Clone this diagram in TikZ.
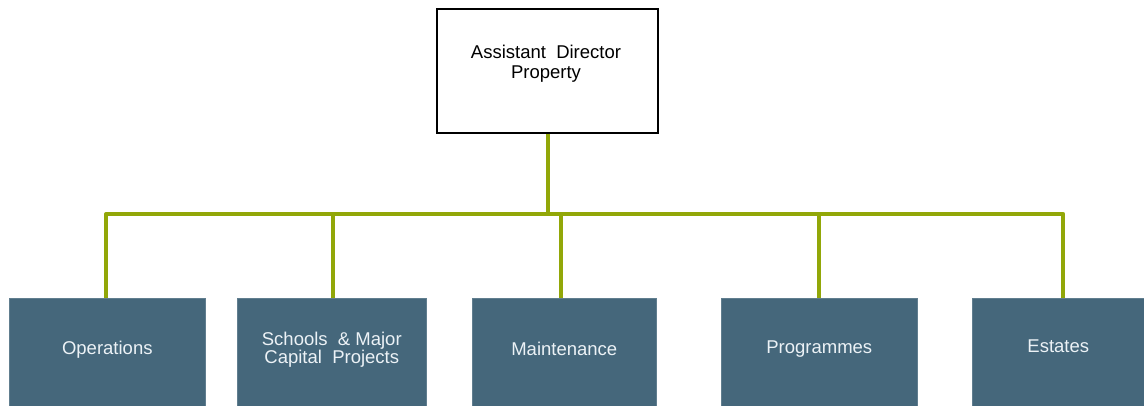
\documentclass[tikz,border=0pt]{standalone}
\usepackage{fontspec}
\setmainfont{Liberation Sans}
\definecolor{linkgreen}{RGB}{146,167,8}
\definecolor{unitfill}{RGB}{69,103,123}
\definecolor{unittext}{RGB}{236,242,246}
\tikzset{
  x=1pt, y=-1pt,
  headbox/.style={draw=black, line width=1.6pt, fill=white, minimum width=221pt,
    minimum height=124pt, inner sep=0pt},
  unitbox/.style={fill=unitfill, draw=unitfill!85!white, line width=0.6pt,
    minimum height=108pt, inner sep=0pt, anchor=north west},
  unitlabel/.style={text=unittext, font=\fontsize{18.5}{18}\selectfont, align=center,
    inner sep=0pt},
  link/.style={draw=linkgreen, line width=4pt, line join=round},
}
\begin{document}
\begin{tikzpicture}
\useasboundingbox[fill=white] (0,0) rectangle (1144,406);
% head of service
\node[headbox] (head) at (547.5,71) {};
\node[font=\fontsize{18.5}{20}\selectfont, align=center, inner sep=0pt] (headtext)
  at (546,64) {Assistant\ \ Director\\Property};
% teams
\node[unitbox, minimum width=196pt] (ops) at (9,298) {};
\node[unitbox, minimum width=189pt] (smc) at (237,298) {};
\node[unitbox, minimum width=184pt] (mnt) at (472,298) {};
\node[unitbox, minimum width=196pt] (prg) at (721,298) {};
\node[unitbox, minimum width=172pt] (est) at (972,298) {};
\node[unitlabel] (opsl) at ([yshift=3pt]ops.center) {Operations};
\node[unitlabel] (smcl) at ([yshift=3pt]smc.center) {Schools\ \ \&\ Major\\Capital\ \ Projects};
\node[unitlabel] (mntl) at ([yshift=3pt]mnt.center) {Maintenance};
\node[unitlabel] (prgl) at ([yshift=3pt]prg.center) {Programmes};
\node[unitlabel] (estl) at ([yshift=6pt]est.center) {Estates};
% connectors
\coordinate (bar) at (0,214);
\draw[link] (head.south) -- (head.south |- bar);
\draw[link] ([xshift=-1pt]ops.north) -- ([xshift=-1pt]ops.north |- bar)
  -- ([xshift=5pt]est.north |- bar) -- ([xshift=5pt]est.north);
\draw[link] ([xshift=1pt]smc.north |- bar) -- ([xshift=1pt]smc.north);
\draw[link] ([xshift=-3pt]mnt.north |- bar) -- ([xshift=-3pt]mnt.north);
\draw[link] (prg.north |- bar) -- (prg.north);
\end{tikzpicture}
\end{document}
